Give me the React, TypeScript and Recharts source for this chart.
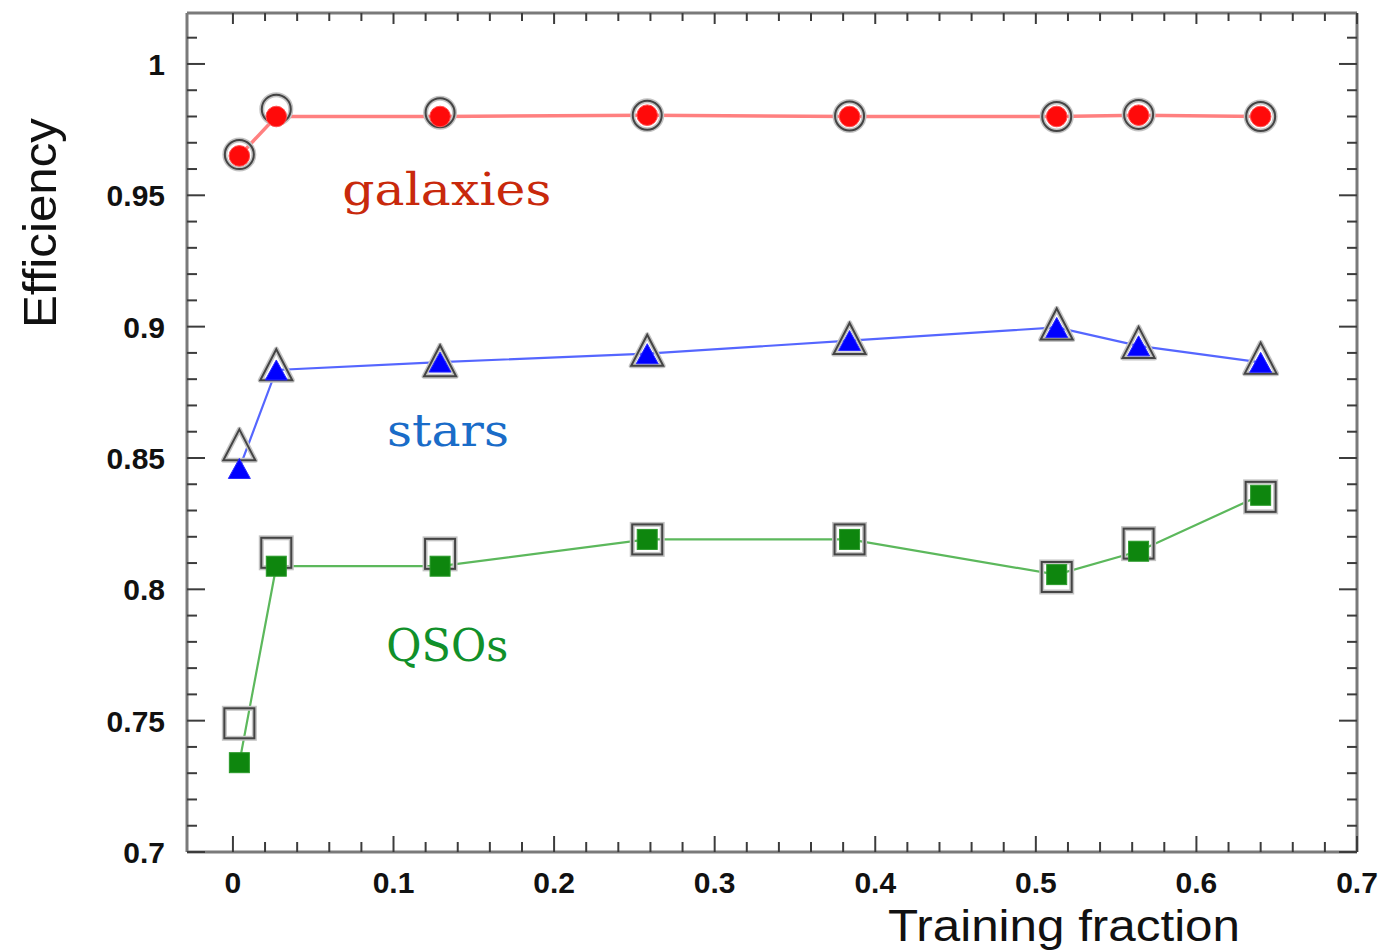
import React from 'react';
import { ComposedChart, Line, XAxis, YAxis, ReferenceDot, Label } from 'recharts';

// ---- data ----
const trainingFraction = [0.004, 0.027, 0.129, 0.258, 0.384, 0.513, 0.564, 0.640];

const galaxiesFilled = [0.965, 0.980, 0.980, 0.9805, 0.980, 0.980, 0.9805, 0.980];
const galaxiesOpen = [0.9655, 0.9828, 0.9814, 0.9805, 0.9802, 0.980, 0.9808, 0.980];

const starsFilled = [0.846, 0.8835, 0.8865, 0.8897, 0.8947, 0.8997, 0.8927, 0.8864];
const starsOpen = [0.855, 0.8855, 0.887, 0.891, 0.8955, 0.901, 0.894, 0.888];

const qsoFilled = [0.734, 0.8088, 0.8088, 0.819, 0.819, 0.8056, 0.8145, 0.8358];
const qsoOpen = [0.749, 0.8139, 0.8135, 0.819, 0.819, 0.8047, 0.8174, 0.8352];

const xMajorTicks = [0, 0.1, 0.2, 0.3, 0.4, 0.5, 0.6, 0.7];
const xTickLabels = ['0', '0.1', '0.2', '0.3', '0.4', '0.5', '0.6', '0.7'];
const xAllTicks = [
  0, 0.02, 0.04, 0.06, 0.08, 0.1, 0.12, 0.14, 0.16, 0.18, 0.2, 0.22, 0.24, 0.26, 0.28,
  0.3, 0.32, 0.34, 0.36, 0.38, 0.4, 0.42, 0.44, 0.46, 0.48, 0.5, 0.52, 0.54, 0.56, 0.58,
  0.6, 0.62, 0.64, 0.66, 0.68, 0.7,
];

const yMajorTicks = [0.7, 0.75, 0.8, 0.85, 0.9, 0.95, 1.0];
const yTickLabels = ['0.7', '0.75', '0.8', '0.85', '0.9', '0.95', '1'];
const yAllTicks = [
  0.7, 0.71, 0.72, 0.73, 0.74, 0.75, 0.76, 0.77, 0.78, 0.79, 0.8, 0.81, 0.82, 0.83, 0.84,
  0.85, 0.86, 0.87, 0.88, 0.89, 0.9, 0.91, 0.92, 0.93, 0.94, 0.95, 0.96, 0.97, 0.98, 0.99,
  1.0, 1.01,
];

const xDomain: [number, number] = [-0.0286, 0.7];
const yDomain: [number, number] = [0.7, 1.0194];

const rows = trainingFraction.map((x, i) => ({
  x,
  galaxiesFilled: galaxiesFilled[i],
  galaxiesOpen: galaxiesOpen[i],
  starsFilled: starsFilled[i],
  starsOpen: starsOpen[i],
  qsoFilled: qsoFilled[i],
  qsoOpen: qsoOpen[i],
}));

// ---- styles ----
const FRAME = '#7a7a7a';
const TICK = '#3c3c3c';
const SANS = '"Liberation Sans", Arial, Helvetica, sans-serif';
const SERIF = '"DejaVu Serif", "Liberation Serif", serif';
const tickFont = { fontFamily: SANS, fontWeight: 700, fontSize: 30, fill: '#111' };

const majorIndex = (list: number[], v: number) => list.findIndex((m) => Math.abs(m - v) < 1e-6);

const BottomTick = (props: any) => {
  const { x, y, payload } = props;
  const idx = majorIndex(xMajorTicks, payload.value);
  const major = idx >= 0;
  return (
    <g>
      <line x1={x} x2={x} y1={y} y2={y - (major ? 16 : 10)} stroke={TICK} strokeWidth={2} />
      {major && (
        <text x={x} y={y + 41} textAnchor="middle" {...tickFont}>
          {xTickLabels[idx]}
        </text>
      )}
    </g>
  );
};

const TopTick = (props: any) => {
  const { x, y, payload } = props;
  const major = majorIndex(xMajorTicks, payload.value) >= 0;
  return <line x1={x} x2={x} y1={y} y2={y + (major ? 11 : 8)} stroke={TICK} strokeWidth={2} />;
};

const LeftTick = (props: any) => {
  const { x, y, payload } = props;
  const idx = majorIndex(yMajorTicks, payload.value);
  const major = idx >= 0;
  return (
    <g>
      <line x1={x} x2={x + (major ? 18 : 10)} y1={y} y2={y} stroke={TICK} strokeWidth={2} />
      {major && (
        <text x={x - 22} y={y + 11} textAnchor="end" {...tickFont}>
          {yTickLabels[idx]}
        </text>
      )}
    </g>
  );
};

const RightTick = (props: any) => {
  const { x, y, payload } = props;
  const major = majorIndex(yMajorTicks, payload.value) >= 0;
  return <line x1={x} x2={x - (major ? 18 : 10)} y1={y} y2={y} stroke={TICK} strokeWidth={2} />;
};

// ---- markers ----
const OPEN_STROKE = '#444';
const HALO = '#c4c4c4';

const filledCircle = (p: any) => (
  <circle key={`fc-${p.index}`} cx={p.cx} cy={p.cy} r={10.3} fill="#ff0a0a" stroke="#ff5050" strokeWidth={1} />
);
const openCircle = (p: any) => (
  <g key={`oc-${p.index}`}>
    <circle cx={p.cx} cy={p.cy} r={14.5} fill="none" stroke={HALO} strokeWidth={5} />
    <circle cx={p.cx} cy={p.cy} r={14.5} fill="none" stroke={OPEN_STROKE} strokeWidth={2} />
  </g>
);
const triPoints = (cx: number, cy: number, w: number, h: number) =>
  `${cx},${cy - h / 2} ${cx - w / 2},${cy + h / 2} ${cx + w / 2},${cy + h / 2}`;
const filledTriangle = (p: any) => (
  <polygon key={`ft-${p.index}`} points={triPoints(p.cx, p.cy, 22, 20)} fill="#0000ff" stroke="#2a2aff" strokeWidth={1} />
);
const openTriangle = (p: any) => (
  <g key={`ot-${p.index}`}>
    <polygon points={triPoints(p.cx, p.cy, 32, 31)} fill="none" stroke={HALO} strokeWidth={5} strokeLinejoin="round" />
    <polygon points={triPoints(p.cx, p.cy, 32, 31)} fill="none" stroke={OPEN_STROKE} strokeWidth={2} />
  </g>
);
const filledSquare = (p: any) => (
  <rect key={`fs-${p.index}`} x={p.cx - 10} y={p.cy - 10} width={20} height={20} fill="#0e860e" stroke="#2a9a2a" strokeWidth={1} />
);
const openSquare = (p: any) => (
  <g key={`os-${p.index}`}>
    <rect x={p.cx - 15} y={p.cy - 15} width={30} height={30} fill="none" stroke={HALO} strokeWidth={5} />
    <rect x={p.cx - 15} y={p.cy - 15} width={30} height={30} fill="none" stroke={OPEN_STROKE} strokeWidth={2} />
  </g>
);

const annotation = (text: string, color: string, length: number) => (props: any) => {
  const vb = props.viewBox || {};
  return (
    <text
      x={vb.x}
      y={vb.y}
      textAnchor="middle"
      fontFamily={SERIF}
      fontSize={45}
      fill={color}
      textLength={length}
      lengthAdjust="spacingAndGlyphs"
    >
      {text}
    </text>
  );
};

export default function App() {
  return (
    <div style={{ position: 'absolute', left: 0, top: 0, width: 1381, height: 951, background: '#fff' }}>
      <ComposedChart width={1381} height={951} data={rows} margin={{ top: 0, right: 0, bottom: 0, left: 0 }}>
        <XAxis
          xAxisId="b"
          type="number"
          dataKey="x"
          orientation="bottom"
          domain={xDomain}
          allowDataOverflow
          ticks={xAllTicks}
          interval={0}
          tickSize={0}
          tickMargin={0}
          tickLine={false}
          tick={BottomTick}
          axisLine={{ stroke: FRAME, strokeWidth: 3 }}
          height={99}
        >
          <Label
            content={() => (
              <text x={1064} y={941} textAnchor="middle" fontFamily={SANS} fontSize={45} fill="#111" textLength={352} lengthAdjust="spacingAndGlyphs">
                Training fraction
              </text>
            )}
          />
        </XAxis>
        <XAxis
          xAxisId="t"
          type="number"
          dataKey="x"
          orientation="top"
          domain={xDomain}
          allowDataOverflow
          ticks={xAllTicks}
          interval={0}
          tickSize={0}
          tickMargin={0}
          tickLine={false}
          tick={TopTick}
          axisLine={{ stroke: FRAME, strokeWidth: 3 }}
          height={13}
        />
        <YAxis
          yAxisId="l"
          type="number"
          orientation="left"
          domain={yDomain}
          allowDataOverflow
          ticks={yAllTicks}
          interval={0}
          tickSize={0}
          tickMargin={0}
          tickLine={false}
          tick={LeftTick}
          axisLine={{ stroke: FRAME, strokeWidth: 3 }}
          width={187}
        >
          <Label
            content={() => (
              <text x={56} y={223} transform="rotate(-90 56 223)" textAnchor="middle" fontFamily={SANS} fontSize={47} fill="#111" textLength={210} lengthAdjust="spacingAndGlyphs">
                Efficiency
              </text>
            )}
          />
        </YAxis>
        <YAxis
          yAxisId="r"
          type="number"
          orientation="right"
          domain={yDomain}
          allowDataOverflow
          ticks={yAllTicks}
          interval={0}
          tickSize={0}
          tickMargin={0}
          tickLine={false}
          tick={RightTick}
          axisLine={{ stroke: FRAME, strokeWidth: 3 }}
          width={24}
        />

        {/* open (reference) markers */}
        <Line xAxisId="b" yAxisId="l" dataKey="galaxiesOpen" stroke="none" dot={openCircle} activeDot={false} isAnimationActive={false} />
        <Line xAxisId="b" yAxisId="l" dataKey="starsOpen" stroke="none" dot={openTriangle} activeDot={false} isAnimationActive={false} />
        <Line xAxisId="b" yAxisId="l" dataKey="qsoOpen" stroke="none" dot={openSquare} activeDot={false} isAnimationActive={false} />

        {/* filled markers with connecting lines */}
        <Line xAxisId="b" yAxisId="l" dataKey="galaxiesFilled" stroke="#ff8080" strokeWidth={3.5} dot={filledCircle} activeDot={false} isAnimationActive={false} />
        <Line xAxisId="b" yAxisId="l" dataKey="starsFilled" stroke="#5566ff" strokeWidth={2.2} dot={filledTriangle} activeDot={false} isAnimationActive={false} />
        <Line xAxisId="b" yAxisId="l" dataKey="qsoFilled" stroke="#5cb85c" strokeWidth={2.2} dot={filledSquare} activeDot={false} isAnimationActive={false} />

        <ReferenceDot xAxisId="b" yAxisId="l" x={0.1332} y={0.9462} r={0} fill="none" stroke="none" label={<Label content={annotation('galaxies', '#c8290c', 209)} />} />
        <ReferenceDot xAxisId="b" yAxisId="l" x={0.1339} y={0.8547} r={0} fill="none" stroke="none" label={<Label content={annotation('stars', '#1a6cc8', 122)} />} />
        <ReferenceDot xAxisId="b" yAxisId="l" x={0.1335} y={0.7728} r={0} fill="none" stroke="none" label={<Label content={annotation('QSOs', '#11902a', 122)} />} />
      </ComposedChart>
    </div>
  );
}
